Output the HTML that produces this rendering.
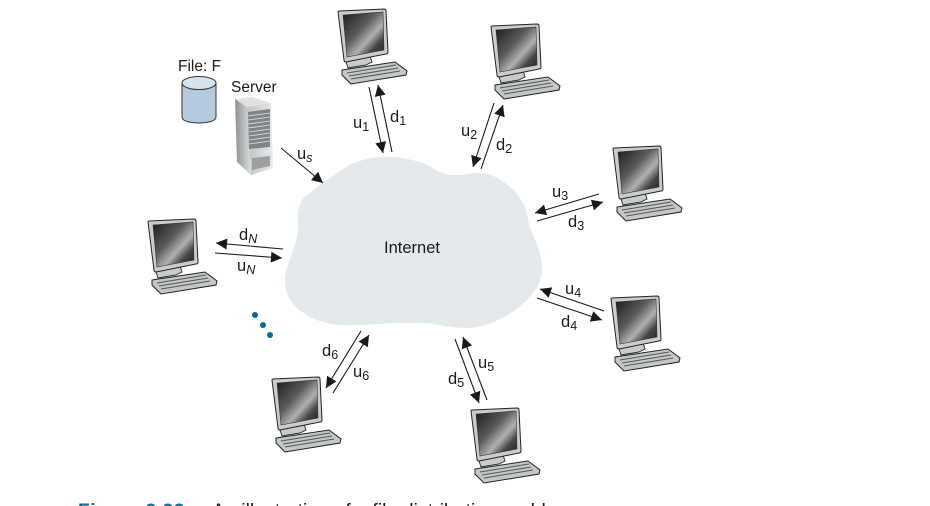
<!DOCTYPE html>
<html><head><meta charset="utf-8"><style>
html,body{margin:0;padding:0;background:#fff}
body{width:930px;height:506px;overflow:hidden;position:relative}
svg{position:absolute;left:0;top:0}
text{font-family:"Liberation Sans",sans-serif;fill:#1a1a1a;font-size:16.5px}
.s{font-size:12.5px}
.i{font-size:12.5px;font-style:italic}
</style></head><body>
<svg width="930" height="506" viewBox="0 0 930 506" xmlns="http://www.w3.org/2000/svg">
<defs>
<linearGradient id="sc" x1="0" y1="0" x2="1" y2="1"><stop offset="0" stop-color="#1c1c1c"/><stop offset=".4" stop-color="#5a5a5a"/><stop offset=".62" stop-color="#b0b0b0"/><stop offset=".78" stop-color="#484848"/><stop offset="1" stop-color="#1c1c1c"/></linearGradient>
<linearGradient id="srv" x1="0" y1="0" x2="1" y2="0"><stop offset="0" stop-color="#c0c4c4"/><stop offset="1" stop-color="#e8eaea"/></linearGradient>
<linearGradient id="srv2" x1="0" y1="0" x2="1" y2="0"><stop offset="0" stop-color="#8f9191"/><stop offset="1" stop-color="#dcdede"/></linearGradient>
<marker id="a" viewBox="0 0 10 10" refX="10" refY="5" markerWidth="13" markerHeight="11" markerUnits="userSpaceOnUse" orient="auto"><path d="M0,0L10,5L0,10Z" fill="#1a1a1a"/></marker>
<g id="pc">
<path d="M4,61L57,53L69,62L68,66L13,75L4,66Z" fill="#c4c8c8" stroke="#222" stroke-width="1"/>
<path d="M9,64L58,56M11,67L60,59M13,70L62,62" stroke="#555" stroke-width="1" fill="none"/>
<path d="M8,53L32,47L34,53L28,56L10,59Z" fill="#c8cccc" stroke="#222" stroke-width=".9"/>
<path d="M0,3Q0,2 1,2L46,0Q48,0 48,2L50,43Q50,45 48,45L8,53Q6,53 6,51Z" fill="#c9cdcd" stroke="#222" stroke-width="1"/>
<path d="M5,6L45,3L46,41L9,48Z" fill="url(#sc)" stroke="#333" stroke-width=".6"/>
</g>
</defs>
<path d="M323,182C335,176 345,166 354,163C375,155 395,155 420,162C432,166 440,175 452,175C464,176 473,172 483,173C500,175 526,195 528,220C530,232 542,250 542,267C543,285 530,298 518,308C505,318 485,328 467,328C450,328 430,322 413,323C390,322 365,326 340,325C318,324 284,310 285,280C285,265 298,245 298,227C297,212 299,200 307,195C313,191 318,186 323,182Z" fill="#e4e9ec"/>
<use href="#pc" x="338" y="9"/>
<use href="#pc" x="491" y="24"/>
<use href="#pc" x="613" y="146"/>
<use href="#pc" x="611" y="296"/>
<use href="#pc" x="471" y="408"/>
<use href="#pc" x="272" y="377"/>
<use href="#pc" x="148" y="219"/>
<path d="M182,83V117C182,121 190,123 199,123C208,123 216,121 216,117V83Z" fill="#b3cbdc" stroke="#333" stroke-width="1"/>
<ellipse cx="199" cy="83" rx="17" ry="6.5" fill="#d6e3ec" stroke="#333" stroke-width="1"/>
<path d="M235,99L252,97L271,103L247,107Z" fill="#e0e2e2"/>
<path d="M235,99L247,107L251,175L237,162Z" fill="url(#srv2)"/>
<path d="M247,107L271,103L273,168L251,175Z" fill="url(#srv)"/>
<path d="M248,112L270,109L270,147L249,149Z" fill="#7f8486"/>
<path d="M248,116L270,113M248,120L270,117M248,124L270,121M248,128L270,125M249,132L270,129M249,136L270,133M249,140L270,137M249,144L270,141" stroke="#dfe2e2" stroke-width=".8"/>
<path d="M252,158L270,156L270,166L252,170Z" fill="#9a9fa1"/>
<circle cx="255" cy="315" r="3" fill="#0b6a96"/><circle cx="263" cy="325" r="3" fill="#0b6a96"/><circle cx="270" cy="335" r="3" fill="#0b6a96"/>
<g stroke="#1a1a1a" stroke-width="1.1" fill="none">
<line x1="281" y1="148" x2="323" y2="183" marker-end="url(#a)"/>
<line x1="369" y1="87" x2="383" y2="153" marker-end="url(#a)"/>
<line x1="392" y1="152" x2="378" y2="85" marker-end="url(#a)"/>
<line x1="494" y1="103" x2="473" y2="167" marker-end="url(#a)"/>
<line x1="481" y1="169" x2="503" y2="105" marker-end="url(#a)"/>
<line x1="599" y1="194" x2="535" y2="213" marker-end="url(#a)"/>
<line x1="537" y1="221" x2="603" y2="202" marker-end="url(#a)"/>
<line x1="604" y1="311" x2="540" y2="289" marker-end="url(#a)"/>
<line x1="537" y1="298" x2="602" y2="320" marker-end="url(#a)"/>
<line x1="487" y1="400" x2="463" y2="337" marker-end="url(#a)"/>
<line x1="455" y1="339" x2="479" y2="403" marker-end="url(#a)"/>
<line x1="333" y1="393" x2="369" y2="335" marker-end="url(#a)"/>
<line x1="361" y1="331" x2="326" y2="388" marker-end="url(#a)"/>
<line x1="283" y1="249" x2="216" y2="243" marker-end="url(#a)"/>
<line x1="215" y1="253" x2="282" y2="258" marker-end="url(#a)"/>
</g>
<text x="178" y="71" style="font-size:15.5px">File: F</text>
<text x="231" y="92" style="font-size:15.5px">Server</text>
<text x="384" y="253" style="font-size:16.5px">Internet</text>
<text x="297" y="159">u<tspan class="i" dy="3">s</tspan></text>
<text x="353" y="128">u<tspan class="s" dy="3">1</tspan></text>
<text x="390" y="122">d<tspan class="s" dy="3">1</tspan></text>
<text x="461" y="136">u<tspan class="s" dy="3">2</tspan></text>
<text x="496" y="150">d<tspan class="s" dy="3">2</tspan></text>
<text x="552" y="197">u<tspan class="s" dy="3">3</tspan></text>
<text x="568" y="227">d<tspan class="s" dy="3">3</tspan></text>
<text x="565" y="294">u<tspan class="s" dy="3">4</tspan></text>
<text x="561" y="327">d<tspan class="s" dy="3">4</tspan></text>
<text x="478" y="368">u<tspan class="s" dy="3">5</tspan></text>
<text x="448" y="384">d<tspan class="s" dy="3">5</tspan></text>
<text x="353" y="377">u<tspan class="s" dy="3">6</tspan></text>
<text x="322" y="356">d<tspan class="s" dy="3">6</tspan></text>
<text x="239" y="240">d<tspan class="i" dy="3">N</tspan></text>
<text x="237" y="271">u<tspan class="i" dy="3">N</tspan></text>
<text x="78" y="517" style="font-size:19px;font-weight:bold;fill:#0b6a96;letter-spacing:.6px">Figure 2.22</text>
<text x="212" y="517" style="font-size:19.5px">An illustration of a file distribution problem</text>
</svg>
</body></html>
